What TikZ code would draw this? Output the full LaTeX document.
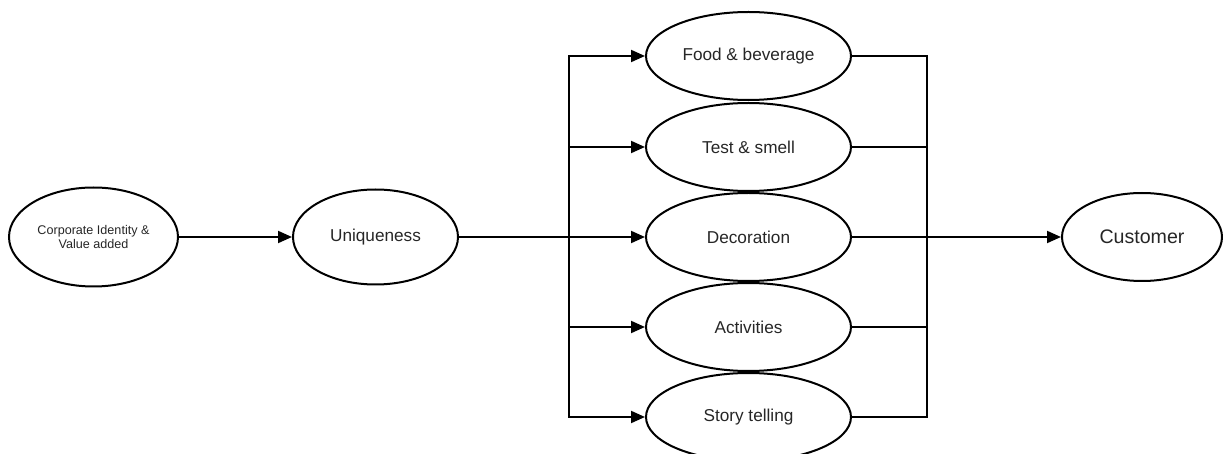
\documentclass[tikz,border=0pt]{standalone}
\usepackage{fontspec}
\setmainfont{Liberation Sans}
\usetikzlibrary{shapes.geometric,arrows.meta}
\begin{document}
\begin{tikzpicture}[x=0.5pt,y=-0.5pt,
  oval/.style={draw,ellipse,line width=1pt,inner sep=0pt,align=center,text=black!85,font=\fontsize{8.6}{10}\selectfont},
  midoval/.style={oval,minimum width=102.5pt,minimum height=44pt},
  conn/.style={line width=1pt},
  arr/.style={conn,-{Triangle[length=7pt,width=6pt]}}]
\useasboundingbox (0,0) rectangle (1223,454);
\clip (0,0) rectangle (1223,454);
\node[oval,minimum width=84.5pt,minimum height=49.5pt,font=\fontsize{6.3}{6.6}\selectfont] (corp) at (93.5,237) {Corporate Identity \&\\Value added};
\node[oval,minimum width=82.5pt,minimum height=47.5pt] (uniq) at (375.5,237) {Uniqueness};
\node[midoval] (food) at (748.5,56) {Food \& beverage};
\node[midoval] (test) at (748.5,147) {Test \& smell};
\node[midoval] (deco) at (748.5,237) {Decoration};
\node[midoval] (act) at (748.5,327) {Activities};
\node[midoval] (story) at (748.5,417) {Story telling};
\node[oval,minimum width=80pt,minimum height=44pt,font=\fontsize{9.8}{11}\selectfont] (cust) at (1142,237) {Customer};
\coordinate (lbus) at (569,237);
\coordinate (rbus) at (927,237);
\draw[arr] (corp) -- (uniq);
\draw[arr] (uniq) -- (deco);
\draw[conn,line cap=rect] (lbus |- food.west) -- (lbus |- story.west);
\foreach \n in {food,test,act,story}{
  \draw[arr] (lbus |- \n.west) -- (\n.west);
}
\draw[conn,line cap=rect] (rbus |- food.east) -- (rbus |- story.east);
\foreach \n in {food,test,act,story}{
  \draw[conn] (\n.east) -- (rbus |- \n.east);
}
\draw[arr] (deco) -- (cust);
\end{tikzpicture}
\end{document}
